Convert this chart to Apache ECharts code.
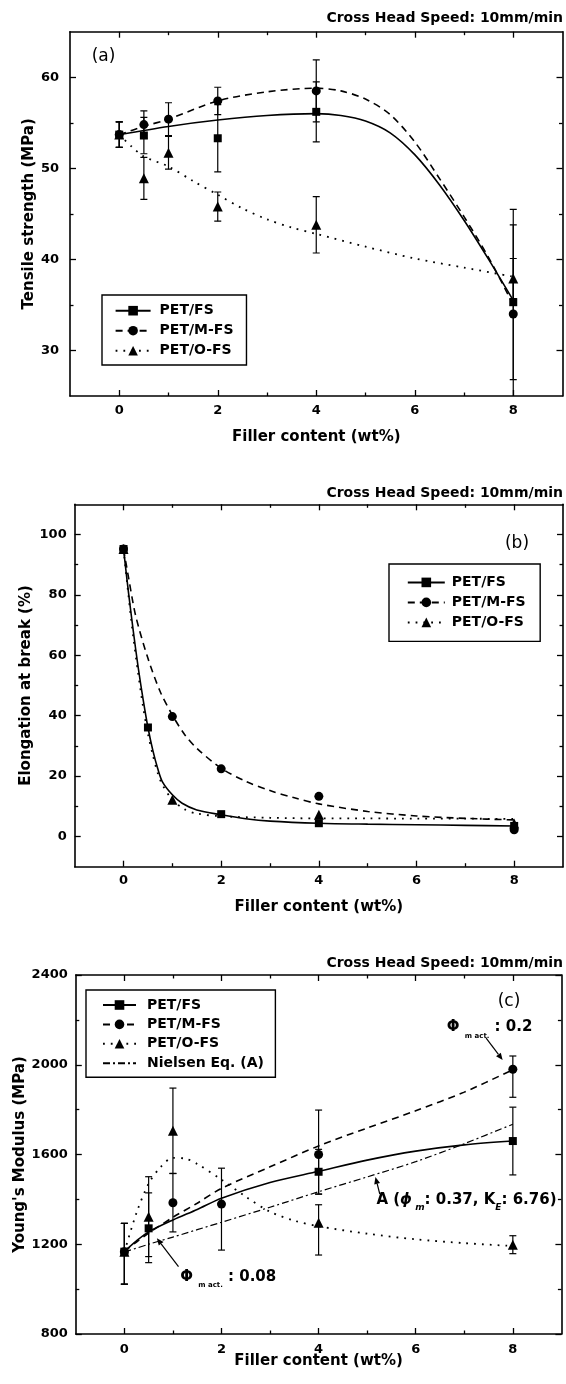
<!DOCTYPE html>
<html>
<head>
<meta charset="utf-8">
<title>PET / fumed silica composites: tensile properties</title>
<script src="https://cdn.jsdelivr.net/npm/echarts@6.0.0/dist/echarts.min.js"></script>
<style>
  html, body { margin: 0; padding: 0; background: #fff; }
  #chart { width: 566px; height: 1384px; }
</style>
</head>
<body>
<div id="chart"></div>
<script>
// ---------- filler content axis ----------
const FILLER_MIN = -1, FILLER_MAX = 9;
const FILLER_LABELS = [0, 2, 4, 6, 8];
const FILLER_MINOR = [1, 3, 5, 7];

// ---------- (a) tensile strength, MPa ----------
const tsTicks = [30, 40, 50, 60];
const tsMinorTicks = [35, 45, 55];
const tsFsX = [0, 0.5, 2, 4, 8];
const tsFsY = [53.7, 53.6, 53.3, 56.2, 35.3];
const tsFsErr = [1.4, 2.0, 3.7, 3.3, 8.5];
const tsMfsX = [0, 0.5, 1, 2, 4, 8];
const tsMfsY = [53.7, 54.8, 55.4, 57.4, 58.5, 34.0];
const tsMfsErr = [1.4, 1.5, 1.8, 1.5, 3.4, 11.5];
const tsOfsX = [0, 0.5, 1, 2, 4, 8];
const tsOfsY = [53.7, 48.9, 51.7, 45.8, 43.8, 37.9];
const tsOfsErr = [1.4, 2.3, 1.8, 1.6, 3.1, 2.2];
// trend curves
const tsFsFitX = [0, 1, 2, 3, 4, 4.5, 5, 5.5, 6, 6.5, 7, 7.5, 8];
const tsFsFitY = [53.7, 54.6, 55.3, 55.8, 56.0, 55.8, 55.2, 53.9, 51.5, 48.2, 44.3, 40.0, 35.5];
const tsMfsFitX = [0, 0.5, 1, 2, 3, 4, 4.5, 5, 5.5, 6, 6.5, 7, 7.5, 8];
const tsMfsFitY = [53.7, 54.6, 55.4, 57.4, 58.4, 58.8, 58.5, 57.6, 55.9, 52.9, 48.9, 44.7, 40.2, 35.0];
const tsOfsFitX = [0, 0.25, 0.5, 1, 1.5, 2, 2.5, 3, 3.5, 4, 5, 6, 7, 8];
const tsOfsFitY = [53.7, 52.4, 51.3, 50.2, 48.6, 47.1, 45.6, 44.4, 43.5, 42.8, 41.4, 40.1, 39.1, 38.1];

// ---------- (b) elongation at break, % ----------
const elTicks = [0, 20, 40, 60, 80, 100];
const elMinorTicks = [10, 30, 50, 70, 90];
const elFsX = [0, 0.5, 2, 4, 8];
const elFsY = [95.2, 36.1, 7.4, 4.4, 3.5];
const elMfsX = [0, 1, 2, 4, 8];
const elMfsY = [95.2, 39.7, 22.4, 13.3, 2.2];
const elOfsX = [0, 1, 4, 8];
const elOfsY = [95.2, 12.2, 7.2, 4.3];
// trend curves
const elFsFitX = [0, 0.1, 0.2, 0.3, 0.4, 0.5, 0.6, 0.7, 0.8, 1, 1.2, 1.5, 2, 2.5, 3, 4, 5, 6, 7, 8];
const elFsFitY = [95.2, 81, 68, 56, 45.5, 36.1, 28.5, 22.5, 18, 13.8, 11, 8.8, 7.2, 5.9, 5.1, 4.4, 4.1, 3.9, 3.7, 3.5];
const elMfsFitX = [0, 0.1, 0.25, 0.5, 0.75, 1, 1.25, 1.5, 2, 2.5, 3, 3.5, 4, 5, 6, 7, 8];
const elMfsFitY = [95.2, 86, 73, 59, 48, 40.2, 33.8, 29.2, 22.6, 18.3, 15.2, 12.8, 10.8, 8.3, 6.8, 6.0, 5.5];
const elOfsFitX = [0, 0.1, 0.2, 0.3, 0.4, 0.5, 0.6, 0.7, 0.8, 1, 1.25, 1.5, 2, 3, 4, 5, 6, 7, 8];
const elOfsFitY = [95.2, 80, 66, 54, 43, 34, 27, 21, 17, 12.2, 9, 7.6, 6.7, 6.2, 6.0, 6.0, 5.9, 5.9, 5.8];

// ---------- (c) Young's modulus, MPa ----------
const ymTicks = [800, 1200, 1600, 2000, 2400];
const ymMinorTicks = [1000, 1400, 1800, 2200];
const ymFsX = [0, 0.5, 4, 8];
const ymFsY = [1167, 1271, 1523, 1660];
const ymFsErrUp = [126, 158, 100, 151];
const ymFsErrDown = [145, 153, 100, 151];
const ymMfsX = [0, 1, 2, 4, 8];
const ymMfsY = [1167, 1385, 1379, 1600, 1980];
const ymMfsErrUp = [126, 130, 160, 198, 59];
const ymMfsErrDown = [145, 130, 205, 176, 125];
const ymOfsX = [0, 0.5, 1, 4, 8];
const ymOfsY = [1167, 1323, 1706, 1296, 1198];
const ymOfsErrUp = [126, 178, 190, 80, 40];
const ymOfsErrDown = [145, 178, 190, 144, 40];
// trend curves and Nielsen equation (A)
const ymFsFitX = [0, 0.25, 0.5, 1, 1.5, 2, 3, 4, 5, 6, 7, 8];
const ymFsFitY = [1168, 1215, 1255, 1308, 1355, 1405, 1475, 1525, 1575, 1615, 1643, 1660];
const ymMfsFitX = [0, 0.25, 0.5, 1, 1.5, 2, 3, 4, 5, 6, 7, 8];
const ymMfsFitY = [1168, 1210, 1250, 1320, 1383, 1449, 1545, 1638, 1718, 1795, 1878, 1978];
const ymOfsFitX = [0, 0.25, 0.5, 0.75, 1, 1.25, 1.5, 2, 2.5, 3, 3.5, 4, 5, 6, 7, 8];
const ymOfsFitY = [1165, 1340, 1470, 1545, 1585, 1582, 1558, 1488, 1412, 1345, 1305, 1280, 1247, 1222, 1205, 1192];
const nielsenX = [0, 0.5, 1, 2, 3, 4, 5, 6, 7, 8];
const nielsenY = [1165, 1200, 1232, 1298, 1365, 1434, 1500, 1568, 1648, 1735];

// ---------- styling ----------
const FONT = 'DejaVu Sans';
const BLACK = '#000';
const AXIS_LINE = { show: true, onZero: false, lineStyle: { color: BLACK, width: 1.6 } };
const NO_LINE = { show: false, onZero: false };
const TICK_STYLE = { color: BLACK, width: 1.3 };
const LABEL_FONT = { color: BLACK, fontFamily: FONT, fontWeight: 'bold', fontSize: 13 };
const NAME_FONT = { color: BLACK, fontFamily: FONT, fontWeight: 'bold', fontSize: 15 };
const SOLID = { color: BLACK, width: 1.6, type: 'solid' };
const DASHED = { color: BLACK, width: 1.6, type: [7, 5] };
const DOTTED = { color: BLACK, width: 1.8, type: [1.8, 6] };
const DASHDOT = { color: BLACK, width: 1.2, type: [7, 3, 2, 3] };

// four axes per side pair: main (line, major ticks, labels), minor ticks, mirrored frame side, its minor ticks
function frameAxes(dim, gi, min, max, major, minor, main) {
  const pos = dim === 'x' ? ['bottom', 'top'] : ['left', 'right'];
  const base = { type: 'value', gridIndex: gi, min: min, max: max,
    splitLine: { show: false }, axisLabel: { show: false }, nameMoveOverlap: false };
  const tick = (len, vals) => ({ show: true, inside: true, length: len, customValues: vals, lineStyle: TICK_STYLE });
  return [
    Object.assign({}, base, {
      position: pos[0], axisLine: AXIS_LINE, axisTick: tick(6, major),
      axisLabel: Object.assign({ show: true, customValues: major, margin: main.labelMargin,
        formatter: v => String(v) }, LABEL_FONT),
      name: main.name, nameLocation: 'middle', nameGap: main.nameGap, nameTextStyle: NAME_FONT
    }),
    Object.assign({}, base, { position: pos[0], axisLine: NO_LINE, axisTick: tick(3.5, minor) }),
    Object.assign({}, base, { position: pos[1], axisLine: AXIS_LINE, axisTick: tick(6, major) }),
    Object.assign({}, base, { position: pos[1], axisLine: NO_LINE, axisTick: tick(3.5, minor) })
  ];
}

const pairs = (xs, ys) => xs.map((x, i) => [x, ys[i]]);

function curve(name, gi, xs, ys, lineStyle, symbol) {
  return { type: 'line', name: name, xAxisIndex: 4 * gi, yAxisIndex: 4 * gi,
    data: pairs(xs, ys), smooth: 0.3, showSymbol: false, symbol: symbol, symbolSize: 8,
    lineStyle: lineStyle, itemStyle: { color: BLACK, opacity: 1 }, silent: true, z: 3 };
}
function points(name, gi, xs, ys, symbol, size) {
  return { type: 'scatter', name: name, xAxisIndex: 4 * gi, yAxisIndex: 4 * gi,
    data: pairs(xs, ys), symbol: symbol, symbolSize: size,
    itemStyle: { color: BLACK, opacity: 1 }, silent: true, z: 5 };
}
function errorBars(gi, xs, ys, up, down) {
  return { type: 'custom', xAxisIndex: 4 * gi, yAxisIndex: 4 * gi, clip: true, silent: true, z: 4,
    encode: { x: 0, y: 1 },
    data: xs.map((x, i) => [x, ys[i], up[i], down[i]]),
    renderItem: function (params, api) {
      const x = api.value(0), y = api.value(1);
      const top = api.coord([x, y + api.value(2)]);
      const bot = api.coord([x, y - api.value(3)]);
      const hw = 3.5, st = { stroke: BLACK, lineWidth: 1.2 };
      return { type: 'group', children: [
        { type: 'line', shape: { x1: top[0], y1: top[1], x2: bot[0], y2: bot[1] }, style: st },
        { type: 'line', shape: { x1: top[0] - hw, y1: top[1], x2: top[0] + hw, y2: top[1] }, style: st },
        { type: 'line', shape: { x1: bot[0] - hw, y1: bot[1], x2: bot[0] + hw, y2: bot[1] }, style: st }
      ] };
    } };
}

const grids = [
  { left: 70, top: 31.7, width: 492.5, height: 364.3, outerBoundsMode: 'none' },
  { left: 74.7, top: 504.3, width: 488.3, height: 362.4, outerBoundsMode: 'none' },
  { left: 75.8, top: 975, width: 485.6, height: 359, outerBoundsMode: 'none' }
];
const XNAME = 'Filler content (wt%)';
const xAxes = [].concat(
  frameAxes('x', 0, FILLER_MIN, FILLER_MAX, FILLER_LABELS, FILLER_MINOR, { name: XNAME, nameGap: 33.5, labelMargin: 8 }),
  frameAxes('x', 1, FILLER_MIN, FILLER_MAX, FILLER_LABELS, FILLER_MINOR, { name: XNAME, nameGap: 32.8, labelMargin: 7 }),
  frameAxes('x', 2, FILLER_MIN, FILLER_MAX, FILLER_LABELS, FILLER_MINOR, { name: XNAME, nameGap: 19.5, labelMargin: 9.5 })
);
const yAxes = [].concat(
  frameAxes('y', 0, 25, 65, tsTicks, tsMinorTicks, { name: 'Tensile strength (MPa)', nameGap: 33.5, labelMargin: 11 }),
  frameAxes('y', 1, -10, 110, elTicks, elMinorTicks, { name: 'Elongation at break (%)', nameGap: 41, labelMargin: 8 }),
  frameAxes('y', 2, 800, 2400, ymTicks, ymMinorTicks, { name: "Young's Modulus (MPa)", nameGap: 48, labelMargin: 8 })
);

const series = [
  // (a)
  errorBars(0, tsFsX, tsFsY, tsFsErr, tsFsErr),
  errorBars(0, tsMfsX, tsMfsY, tsMfsErr, tsMfsErr),
  errorBars(0, tsOfsX, tsOfsY, tsOfsErr, tsOfsErr),
  curve('PET/FS', 0, tsFsFitX, tsFsFitY, SOLID, 'rect'),
  curve('PET/M-FS', 0, tsMfsFitX, tsMfsFitY, DASHED, 'circle'),
  curve('PET/O-FS', 0, tsOfsFitX, tsOfsFitY, DOTTED, 'triangle'),
  points('FS strength', 0, tsFsX, tsFsY, 'rect', 8),
  points('M-FS strength', 0, tsMfsX, tsMfsY, 'circle', 9),
  points('O-FS strength', 0, tsOfsX, tsOfsY, 'triangle', 10),
  // (b)
  curve('PET/FS', 1, elFsFitX, elFsFitY, SOLID, 'rect'),
  curve('PET/M-FS', 1, elMfsFitX, elMfsFitY, DASHED, 'circle'),
  curve('PET/O-FS', 1, elOfsFitX, elOfsFitY, DOTTED, 'triangle'),
  points('FS elongation', 1, elFsX, elFsY, 'rect', 8),
  points('M-FS elongation', 1, elMfsX, elMfsY, 'circle', 9),
  points('O-FS elongation', 1, elOfsX, elOfsY, 'triangle', 10),
  // (c)
  errorBars(2, ymFsX, ymFsY, ymFsErrUp, ymFsErrDown),
  errorBars(2, ymMfsX, ymMfsY, ymMfsErrUp, ymMfsErrDown),
  errorBars(2, ymOfsX, ymOfsY, ymOfsErrUp, ymOfsErrDown),
  curve('PET/FS', 2, ymFsFitX, ymFsFitY, SOLID, 'rect'),
  curve('PET/M-FS', 2, ymMfsFitX, ymMfsFitY, DASHED, 'circle'),
  curve('PET/O-FS', 2, ymOfsFitX, ymOfsFitY, DOTTED, 'triangle'),
  curve('Nielsen Eq. (A)', 2, nielsenX, nielsenY, DASHDOT, 'circle'),
  points('FS modulus', 2, ymFsX, ymFsY, 'rect', 8),
  points('M-FS modulus', 2, ymMfsX, ymMfsY, 'circle', 9),
  points('O-FS modulus', 2, ymOfsX, ymOfsY, 'triangle', 10)
];

const LEGEND_TEXT = { fontFamily: FONT, fontWeight: 'bold', fontSize: 14, color: BLACK, lineHeight: 14 };
function legendBox(names, left, top, padding, itemWidth, itemGap, textGap) {
  return { data: names, left: left, top: top, orient: 'vertical', padding: padding,
    itemWidth: itemWidth, itemHeight: 12, itemGap: itemGap, selectedMode: false,
    borderColor: BLACK, borderWidth: 1.4, backgroundColor: '#fff',
    textStyle: Object.assign({ padding: [0, 0, 0, textGap] }, LEGEND_TEXT) };
}
const legends = [
  legendBox(['PET/FS', 'PET/M-FS', 'PET/O-FS'], 102, 295, [8.7, 13, 7.3, 12.6], 35, 6, 4),
  legendBox(['PET/FS', 'PET/M-FS', 'PET/O-FS'], 389, 564, [11.4, 14.5, 12, 17.8], 37, 6, 2),
  legendBox(['PET/FS', 'PET/M-FS', 'PET/O-FS', { name: 'Nielsen Eq. (A)', itemStyle: { opacity: 0 } }],
    86, 990, [8, 11.5, 7, 16], 33, 5.4, 6)
];

const chart = echarts.init(document.getElementById('chart'), null, { renderer: 'canvas' });
chart.setOption({
  animation: false,
  backgroundColor: '#fff',
  textStyle: { fontFamily: FONT },
  grid: grids,
  xAxis: xAxes,
  yAxis: yAxes,
  legend: legends,
  series: series
});

// ---------- headers, panel letters and annotations ----------
const toPx = (x, y) => chart.convertToPixel({ xAxisIndex: 8, yAxisIndex: 8 }, [x, y]);

function header(y) {
  return { type: 'text', x: 563, y: y, silent: true,
    style: { text: 'Cross Head Speed: 10mm/min', fontFamily: FONT, fontWeight: 'bold', fontSize: 14,
      fill: BLACK, align: 'right', verticalAlign: 'middle' } };
}
function letter(t, x, y) {
  return { type: 'text', x: x, y: y, silent: true,
    style: { text: t, fontFamily: FONT, fontSize: 17, fill: BLACK, align: 'center', verticalAlign: 'middle' } };
}
function arrow(from, to) {
  const a = toPx(from[0], from[1]), b = toPx(to[0], to[1]);
  const dx = b[0] - a[0], dy = b[1] - a[1], len = Math.hypot(dx, dy);
  const ux = dx / len, uy = dy / len, hl = 7, hw = 3;
  const bx = b[0] - ux * hl, by = b[1] - uy * hl;
  return [
    { type: 'line', silent: true, shape: { x1: a[0], y1: a[1], x2: bx, y2: by }, style: { stroke: BLACK, lineWidth: 1.2 } },
    { type: 'polygon', silent: true, shape: { points: [[b[0], b[1]], [bx - uy * hw, by + ux * hw], [bx + uy * hw, by - ux * hw]] },
      style: { fill: BLACK } }
  ];
}
const RICH = {
  b: { fontFamily: FONT, fontWeight: 'bold', fontSize: 15, fill: BLACK, lineHeight: 24, verticalAlign: 'middle' },
  i: { fontFamily: FONT, fontWeight: 'bold', fontStyle: 'italic', fontSize: 15, fill: BLACK, lineHeight: 24, verticalAlign: 'middle' },
  s: { fontFamily: FONT, fontWeight: 'bold', fontSize: 7, fill: BLACK, lineHeight: 6, verticalAlign: 'bottom' },
  si: { fontFamily: FONT, fontWeight: 'bold', fontStyle: 'italic', fontSize: 9, fill: BLACK, lineHeight: 8, verticalAlign: 'bottom' }
};
function note(text, at) {
  const p = toPx(at[0], at[1]);
  return { type: 'text', x: p[0], y: p[1], silent: true,
    style: { text: text, rich: RICH, align: 'left', verticalAlign: 'middle' } };
}

chart.setOption({
  graphic: [].concat(
    [header(18), header(493), header(963)],
    [letter('(a)', 103.5, 57), letter('(b)', 517, 544), letter('(c)', 509, 1002)],
    [note('{b|Φ }{s|m act.}{b| : 0.2}', [6.64, 2166]),
     note('{b|Φ }{s|m act.}{b| : 0.08}', [1.15, 1054]),
     note('{b|A (}{i|ϕ}{si| m}{b|: 0.37, K}{si|E}{b|: 6.76)}', [5.19, 1397])],
    arrow([7.45, 2119], [7.79, 2021]),
    arrow([1.115, 1100], [0.67, 1227]),
    arrow([5.26, 1424], [5.17, 1500])
  )
});
</script>
</body>
</html>
